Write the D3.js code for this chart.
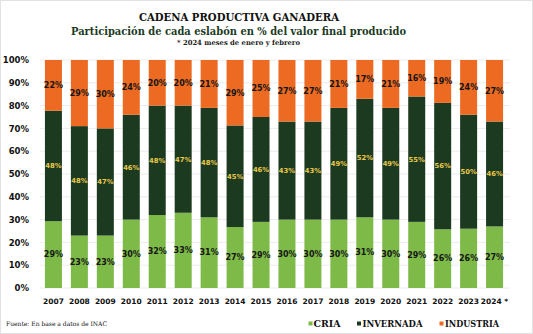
<!DOCTYPE html>
<html>
<head>
<meta charset="utf-8">
<script src="https://cdn.jsdelivr.net/npm/d3@7"></script>
<style>
  body { margin: 0; background: #fff; }
  svg { display: block; }
</style>
</head>
<body>
<div id="chartArea"></div>
<script>
// data setup
var years = ["2007", "2008", "2009", "2010", "2011", "2012", "2013", "2014", "2015",
  "2016", "2017", "2018", "2019", "2020", "2021", "2022", "2023", "2024 *"];
var cria =      [29, 23, 23, 30, 32, 33, 31, 27, 29, 30, 30, 30, 31, 30, 29, 26, 26, 27];
var invernada = [48, 48, 47, 46, 48, 47, 48, 45, 46, 43, 43, 49, 52, 49, 55, 56, 50, 46];
var industria = [22, 29, 30, 24, 20, 20, 21, 29, 25, 27, 27, 21, 17, 21, 16, 19, 24, 27];
var yTicks = [0, 10, 20, 30, 40, 50, 60, 70, 80, 90, 100];

var seriesNames = ["CRIA", "INVERNADA", "INDUSTRIA"];
var colors = { CRIA: "#7dba47", INVERNADA: "#1c3a20", INDUSTRIA: "#ec6a22" };
var labelColors = { CRIA: "#151515", INVERNADA: "#e9c84c", INDUSTRIA: "#151515" };

// plot area
var W = 533, H = 334;
var plot = { left: 40, right: 508, top: 60, bottom: 288 };

var table = years.map(function(y, i) {
  return { year: y, CRIA: cria[i], INVERNADA: invernada[i], INDUSTRIA: industria[i] };
});

var svg = d3.select("#chartArea").append("svg")
  .attr("width", W)
  .attr("height", H);

svg.append("rect")
  .attr("x", 0.5).attr("y", 0.5)
  .attr("width", W - 1).attr("height", H - 1)
  .attr("fill", "#fff")
  .attr("stroke", "#e2e2e2");

var x = d3.scaleBand().domain(years).range([plot.left, plot.right])
  .paddingInner(0.345).paddingOuter(0.19);
var y = d3.scaleLinear().domain([0, 100]).range([plot.bottom, plot.top]);

// stacks normalised to 100%
var stack = d3.stack().keys(seriesNames).offset(d3.stackOffsetExpand);
var layers = stack(table);

// gridlines
svg.append("g")
  .selectAll("line")
  .data(yTicks)
  .enter().append("line")
  .attr("x1", plot.left).attr("x2", plot.right + 2)
  .attr("y1", function(d) { return y(d); })
  .attr("y2", function(d) { return y(d); })
  .attr("stroke", "#ececec")
  .attr("stroke-width", 1);

// bars
var layer = svg.append("g").selectAll("g")
  .data(layers)
  .enter().append("g")
  .attr("fill", function(d) { return colors[d.key]; });

layer.selectAll("rect")
  .data(function(d) { return d; })
  .enter().append("rect")
  .attr("x", function(d) { return x(d.data.year); })
  .attr("y", function(d) { return y(d[1] * 100); })
  .attr("height", function(d) { return y(d[0] * 100) - y(d[1] * 100); })
  .attr("width", x.bandwidth());

// value labels
layers.forEach(function(l) {
  svg.append("g").selectAll("text")
    .data(l)
    .enter().append("text")
    .attr("x", function(d) { return x(d.data.year) + x.bandwidth() / 2; })
    .attr("y", function(d) { return y((d[0] + d[1]) / 2 * 100); })
    .attr("dy", "0.35em")
    .attr("text-anchor", "middle")
    .attr("font-family", "'DejaVu Sans', sans-serif")
    .attr("font-weight", "bold")
    .attr("font-size", l.key === "INVERNADA" ? 6.8 : 8)
    .attr("fill", labelColors[l.key])
    .text(function(d) { return d.data[l.key] + "%"; });
});

// Y axis
var yAxis = svg.append("g")
  .attr("transform", "translate(" + (plot.left - 8) + ",0)")
  .call(d3.axisLeft(y).tickValues(yTicks).tickSize(0).tickFormat(function(d) { return d + "%"; }));
yAxis.select(".domain").remove();
yAxis.selectAll("text")
  .attr("font-family", "'DejaVu Sans', sans-serif")
  .attr("font-weight", "bold")
  .attr("font-size", 8.5)
  .attr("fill", "#111");

// X axis
var xAxis = svg.append("g")
  .attr("transform", "translate(0," + (plot.bottom + 8) + ")")
  .call(d3.axisBottom(x).tickSize(0));
xAxis.select(".domain").remove();
xAxis.selectAll("text")
  .attr("font-family", "'DejaVu Sans', sans-serif")
  .attr("font-weight", "bold")
  .attr("font-size", 7.5)
  .attr("fill", "#111");

// titles
svg.append("text")
  .attr("x", 239).attr("y", 20.5)
  .attr("text-anchor", "middle")
  .attr("font-family", "'DejaVu Serif', serif")
  .attr("font-weight", "bold")
  .attr("font-size", 10.5)
  .attr("textLength", 200).attr("lengthAdjust", "spacingAndGlyphs")
  .attr("fill", "#111")
  .text("CADENA PRODUCTIVA GANADERA");

svg.append("text")
  .attr("x", 238.5).attr("y", 34.5)
  .attr("text-anchor", "middle")
  .attr("font-family", "'DejaVu Serif', serif")
  .attr("font-weight", "bold")
  .attr("font-size", 11)
  .attr("textLength", 335).attr("lengthAdjust", "spacingAndGlyphs")
  .attr("fill", "#1d3b1f")
  .text("Participación de cada eslabón en % del valor final producido");

svg.append("text")
  .attr("x", 238.5).attr("y", 45)
  .attr("text-anchor", "middle")
  .attr("font-family", "'DejaVu Serif', serif")
  .attr("font-weight", "bold")
  .attr("font-size", 7)
  .attr("textLength", 123).attr("lengthAdjust", "spacingAndGlyphs")
  .attr("fill", "#222")
  .text("* 2024 meses de enero  y febrero");

// source note
svg.append("text")
  .attr("x", 6).attr("y", 326)
  .attr("font-family", "'DejaVu Serif', serif")
  .attr("font-size", 6.3)
  .attr("textLength", 101).attr("lengthAdjust", "spacingAndGlyphs")
  .attr("fill", "#111")
  .text("Fuente: En  base a datos de INAC");

// legend
var legendPos = [
  { key: "CRIA", sx: 308.5, tx: 313.5, w: 27 },
  { key: "INVERNADA", sx: 357, tx: 362.5, w: 60 },
  { key: "INDUSTRIA", sx: 439.5, tx: 445, w: 54 }
];
var legend = svg.append("g").selectAll("g")
  .data(legendPos)
  .enter().append("g");
legend.append("rect")
  .attr("x", function(d) { return d.sx; })
  .attr("y", 321.5)
  .attr("width", 4).attr("height", 4)
  .attr("fill", function(d) { return colors[d.key]; });
legend.append("text")
  .attr("x", function(d) { return d.tx; })
  .attr("y", 327)
  .attr("font-family", "'DejaVu Serif', serif")
  .attr("font-weight", "bold")
  .attr("font-size", 9)
  .attr("textLength", function(d) { return d.w; })
  .attr("lengthAdjust", "spacingAndGlyphs")
  .attr("fill", "#111")
  .text(function(d) { return d.key; });
</script>
</body>
</html>
